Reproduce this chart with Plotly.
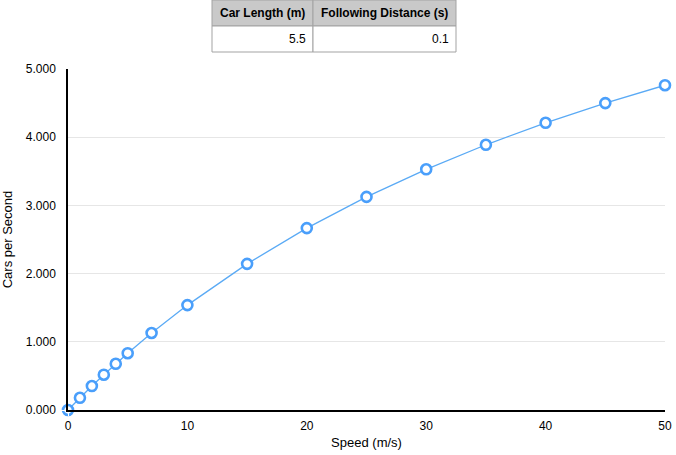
import plotly.graph_objs as go

# speed in m/s vs cars per second passing a point
speed = [0, 1, 2, 3, 4, 5, 7, 10, 15, 20, 25, 30, 35, 40, 45, 50]
cars_per_sec = [0.0, 0.179, 0.351, 0.517, 0.678, 0.833, 1.129, 1.538,
                2.143, 2.667, 3.125, 3.529, 3.889, 4.211, 4.500, 4.762]

table_headers = ['Car Length (m)', 'Following Distance (s)']
table_values = ['5.5', '0.1']

y_ticks = [0, 1, 2, 3, 4, 5]
x_ticks = [0, 10, 20, 30, 40, 50]

fig = go.Figure()
fig.add_trace(go.Scatter(
    x=speed, y=cars_per_sec, mode='lines+markers',
    line=dict(color='#5aaaf5', width=1.3),
    marker=dict(size=10, color='white', line=dict(color='#4a9ffb', width=2.6)),
    cliponaxis=False, showlegend=False,
))

# little table above the plot, drawn in paper coords
W, H = 676, 455
ml, mr, mt, mb = 68, 11, 69, 45
pw, ph = W - ml - mr, H - mt - mb


def px_x(x):
    return (x - ml) / pw


def px_y(y):
    return (H - mb - y) / ph


cols = [212, 313, 456]
rows = [0, 26, 52]
for i in range(2):
    fig.add_shape(type='rect', xref='paper', yref='paper',
                  x0=px_x(cols[i]), x1=px_x(cols[i + 1]), y0=px_y(rows[1]), y1=px_y(rows[0]),
                  fillcolor='#c9c9c9', line=dict(color='#a3a3a3', width=1))
    fig.add_shape(type='rect', xref='paper', yref='paper',
                  x0=px_x(cols[i]), x1=px_x(cols[i + 1]), y0=px_y(rows[2]), y1=px_y(rows[1]),
                  fillcolor='white', line=dict(color='#a3a3a3', width=1))
    fig.add_annotation(xref='paper', yref='paper', x=(px_x(cols[i]) + px_x(cols[i + 1])) / 2,
                       y=px_y(13), xanchor='center', yanchor='middle',
                       text='<b>' + table_headers[i] + '</b>',
                       showarrow=False, font=dict(size=12, color='black'))
    fig.add_annotation(xref='paper', yref='paper', x=px_x(cols[i + 1] - 5),
                       y=px_y(39), xanchor='right', yanchor='middle', text=table_values[i],
                       showarrow=False, font=dict(size=12, color='black'))

fig.update_layout(
    width=W, height=H,
    margin=dict(l=ml, r=mr, t=mt, b=mb, autoexpand=False),
    plot_bgcolor='white', paper_bgcolor='white',
    font=dict(family='Liberation Sans, Arial, sans-serif', size=12, color='black'),
    xaxis=dict(range=[0, 50], tickvals=x_ticks, showgrid=False, zeroline=False,
               showline=True, linecolor='black', linewidth=1.5,
               ticks='outside', ticklen=4, tickcolor='white', automargin=False,
               title=dict(text='Speed (m/s)', font=dict(size=13), standoff=6)),
    yaxis=dict(range=[0, 5], tickvals=y_ticks, tickformat='.3f', showgrid=True,
               gridcolor='#e6e6e6', gridwidth=1, zeroline=False,
               showline=True, linecolor='black', linewidth=1.5,
               ticks='outside', ticklen=8, tickcolor='white', automargin=False,
               title=dict(text='Cars per Second', font=dict(size=13), standoff=10)),
)

# page body has a default margin, drop it so the chart sits at the corner
fig.write_html("out.html", config={'displayModeBar': False},
               post_script="document.body.style.margin='0';")
